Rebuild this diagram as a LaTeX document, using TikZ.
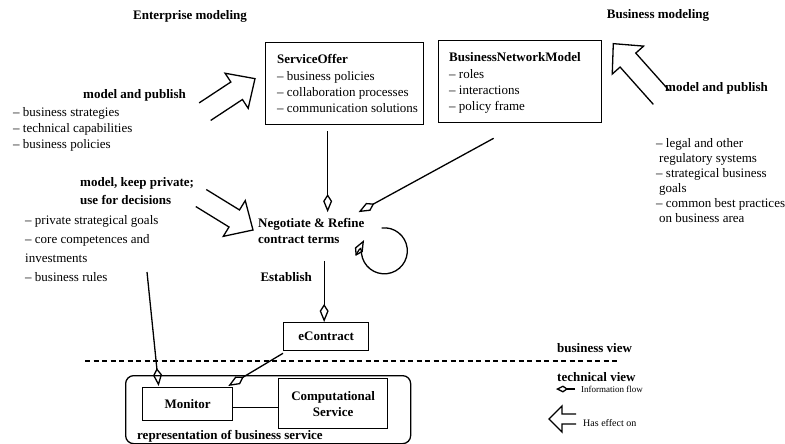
\documentclass[tikz,border=0pt]{standalone}
\usepackage{fontspec}
\setmainfont{Liberation Serif}
\usetikzlibrary{arrows.meta,calc}
\newcommand\fatarrow[6]{%
  \begin{scope}[shift={(#1)}, rotate=#2]
    \draw[fat] (-#3,#6) -- (-#4,#6) -- (-#4,#5) -- (0,0) -- (-#4,-#5) -- (-#4,-#6) -- (-#3,-#6);
  \end{scope}}
\begin{document}
\begin{tikzpicture}[x=1pt,y=-1pt,
  every node/.style={inner sep=0pt, font=\fontsize{13}{16}\selectfont},
  lbl/.style={font=\fontsize{13}{16}\selectfont\bfseries},
  lst/.style={align=left},
  box/.style={draw, line width=1.3pt, inner sep=0pt},
  boxlbl/.style={box, font=\fontsize{13}{16}\selectfont\bfseries, align=center},
  ln/.style={line width=1.3pt},
  flow/.style={line width=1.3pt, -{Kite[open,length=18pt,width=9pt,inset=7pt]}},
  smallflow/.style={line width=1.3pt, -{Kite[open,length=12pt,width=7pt,inset=5pt]}},
  fat/.style={line width=1.3pt, line join=miter},
  legend/.style={font=\fontsize{10}{12}\selectfont}
]
\useasboundingbox (0,0) rectangle (785,444);
\fill[white] (0,0) rectangle (785,444);

% headings
\node[lbl] (ent) at (190,16) {Enterprise modeling};
\node[lbl] (bus) at (658,15) {Business modeling};

% left texts
\node[lbl, anchor=west] (mp1) at (83,95) {model and publish};
\node[lst, anchor=west] (l1) at (13,129) {– business strategies\\– technical capabilities\\– business policies};
\node[lbl, lst, anchor=west, font=\fontsize{13}{18}\selectfont\bfseries] (mkp) at (80,191) {model, keep private;\\use for decisions};
\node[lst, anchor=west, font=\fontsize{13}{19}\selectfont] (l2) at (25,248.5) {– private strategical goals\\– core competences and\\investments\\– business rules};
\coordinate (rulesEnd) at (147,272);

% right texts
\node[lbl, anchor=west] (mp2) at (665,88) {model and publish};
\node[lst, anchor=west, font=\fontsize{13}{15}\selectfont] (l3) at (656,180.5) {– legal and other\\\hspace{3pt}regulatory systems\\– strategical business\\\hspace{3pt}goals\\– common best practices\\\hspace{3pt}on business area};

% boxes
\node[box, anchor=north west, minimum width=158pt, minimum height=82pt] (so) at (265,42) {};
\node[lst, anchor=west, font=\fontsize{13}{16.3}\selectfont] (sotxt) at ($(so.west)+(12,0)$) {\textbf{ServiceOffer}\\– business policies\\– collaboration processes\\– communication solutions};
\node[box, anchor=north west, minimum width=163pt, minimum height=82pt] (bnm) at (438,40) {};
\node[lst, anchor=west, font=\fontsize{13}{16.3}\selectfont] (bnmtxt) at ($(bnm.west)+(11,1.5)$) {\textbf{BusinessNetworkModel}\\– roles\\– interactions\\– policy frame};

\node[lbl, lst, anchor=west] (neg) at (258,231) {Negotiate \& Refine\\contract terms};
\node[lbl, anchor=east] (est) at (312,277) {Establish};
\node[boxlbl, anchor=north west, minimum width=85pt, minimum height=28pt] (ec) at (283,322) {eContract};

\node[draw, line width=1.3pt, rounded corners=8pt, anchor=north west, minimum width=285pt, minimum height=68pt] (rep) at (125,375) {};
\node[lbl, anchor=south west] (replbl) at ($(rep.south west)+(12,-1.5)$) {representation of business service};
\node[boxlbl, anchor=north west, minimum width=90pt, minimum height=33pt] (mon) at (142,387) {Monitor};
\node[boxlbl, anchor=north west, minimum width=109pt, minimum height=50pt] (cs) at (278,378) {Computational\\Service};

% view separator
\draw[line width=1.3pt, dash pattern=on 5pt off 3.5pt] (85,361) -- (620,361);
\node[lbl, anchor=west] (bv) at (557,348) {business view};
\node[lbl, anchor=west] (tv) at (557,377) {technical view};

% legend
\node[legend, anchor=west, font=\fontsize{9}{11}\selectfont] (inf) at (581,389) {Information flow};
\draw[smallflow] ($(inf.west)+(-6,0)$) -- ($(inf.west)+(-25,0)$);
\node[legend, anchor=west] (hef) at (583,423) {Has effect on};
\fatarrow{$(hef.west)+(-34,-4)$}{180}{27}{13}{13}{5}

% has-effect arrows
\fatarrow{$(so.west)+(-10,-5)$}{33.4}{60}{22}{21}{10.5}
\fatarrow{$(bnm.east)+(11,-38)$}{131.7}{72}{22}{21}{10.5}
\fatarrow{$(neg.west)+(-5,-1)$}{-31.6}{61}{22}{21}{10}

% information flows
\path ($(so.south)+(-17,6)$) coordinate (soOut);
\path ($(neg.north)+(0,-6)$) coordinate (negIn);
\draw[flow] (soOut) -- (soOut |- negIn);
\draw[flow] ($(bnm.south)+(-26.5,15)$) -- ($(neg.north east)+(-6,-6)$);
\draw[flow] ($(neg.east)+(17,-3)$) arc[start angle=97, end angle=-208, radius=23pt];
\draw[flow] ($(neg.south -| ec.north)+(-2,17)$) -- ($(ec.north)+(-2,0)$);
\draw[flow] ($(ec.south west)+(0,2)$) -- ($(mon.north east)+(-5,-1)$);
\draw[flow] (rulesEnd) -- ($(mon.north)+(-29,-1)$);
\path ($(mon.east)+(0,3)$) coordinate (monE);
\draw[ln] (monE) -- (monE -| cs.west);
\end{tikzpicture}
\end{document}
